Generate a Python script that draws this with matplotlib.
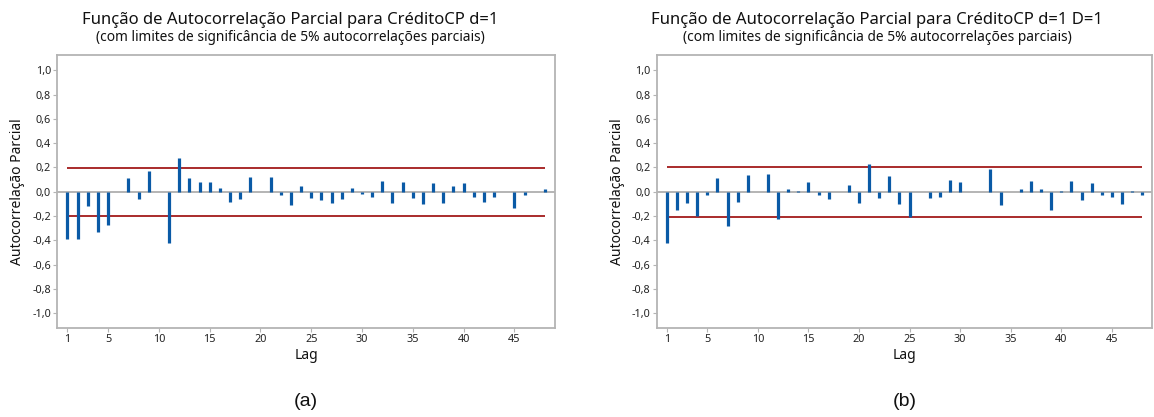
import matplotlib
matplotlib.use("Agg")
import matplotlib.pyplot as plt
import numpy as np

plt.rcParams['font.family'] = ['Noto Sans', 'DejaVu Sans']

# Partial autocorrelations, lags 1..48
lags = list(range(1, 49))
pacf_a = [-0.39, -0.39, -0.12, -0.33, -0.27, 0.00, 0.11, -0.06, 0.17, 0.00,
          -0.42, 0.28, 0.11, 0.08, 0.08, 0.03, -0.08, -0.06, 0.12, 0.00,
          0.12, -0.03, -0.11, 0.05, -0.05, -0.07, -0.09, -0.06, 0.03, -0.02,
          -0.04, 0.09, -0.09, 0.08, -0.05, -0.10, 0.07, -0.09, 0.05, 0.07,
          -0.04, -0.08, -0.04, 0.00, -0.13, -0.03, 0.00, 0.02]
pacf_b = [-0.42, -0.15, -0.09, -0.20, -0.03, 0.11, -0.28, -0.08, 0.14, 0.00,
          0.15, -0.22, 0.02, 0.01, 0.08, -0.03, -0.06, 0.00, 0.06, -0.09,
          0.23, -0.05, 0.13, -0.10, -0.21, 0.00, -0.05, -0.04, 0.10, 0.08,
          0.00, 0.00, 0.19, -0.11, 0.00, 0.02, 0.09, 0.02, -0.15, 0.01,
          0.09, -0.07, 0.07, -0.03, -0.04, -0.10, 0.01, -0.03]

# 5% significance limits
limit_a = 0.196
limit_b = 0.204

titles = ["Função de Autocorrelação Parcial para CréditoCP d=1",
          "Função de Autocorrelação Parcial para CréditoCP d=1 D=1"]
subtitle = "(com limites de significância de 5% autocorrelações parciais)"
panel_labels = ["(a)", "(b)"]
xticks = [1, 5, 10, 15, 20, 25, 30, 35, 40, 45]
yticks = [-1.0, -0.8, -0.6, -0.4, -0.2, 0.0, 0.2, 0.4, 0.6, 0.8, 1.0]
ytick_labels = [f"{v:.1f}".replace(".", ",") for v in yticks]

BAR = "#0a5aa6"
RED = "#a31a1a"
FRAME = "#b4b4b4"
ZERO = "#a8a8a8"
TEXT = "#111111"

W, H = 1154, 417
fig = plt.figure(figsize=(W / 100, H / 100), dpi=100)

def px_axes(x0, x1, y0, y1):
    return fig.add_axes([x0 / W, 1 - y1 / H, (x1 - x0) / W, (y1 - y0) / H])

axes = [px_axes(57.3, 555.0, 55, 328), px_axes(656.7, 1152.3, 55, 328)]
series = [pacf_a, pacf_b]
limits = [limit_a, limit_b]
title_centers = [290, 877]   # centre of each graph region, in pixels

for ax, vals, lim, title, plab, tc in zip(axes, series, limits, titles,
                                          panel_labels, title_centers):
    ax.set_xlim(0, 49)
    ax.set_ylim(-1.12, 1.125)
    ax.axhline(0, color=ZERO, lw=1.2, zorder=1)
    ax.hlines([lim, -lim], 1, 48, color=RED, lw=1.3, zorder=2)
    ax.vlines(lags, 0, vals, color=BAR, lw=2.3, zorder=3)

    ax.set_xticks(xticks)
    ax.set_xticklabels([str(t) for t in xticks], fontsize=7.8, color="#222222")
    ax.set_yticks(yticks)
    ax.set_yticklabels(ytick_labels, fontsize=7.8, color="#222222")
    ax.tick_params(direction="out", length=3, width=0.8, color=FRAME, pad=1.5)
    for s in ax.spines.values():
        s.set_color(FRAME)
        s.set_linewidth(1.3)

    ax.set_ylabel("Autocorrelação Parcial", fontsize=10, color=TEXT, labelpad=5)
    ax.set_xlabel("Lag", fontsize=10, color=TEXT, labelpad=2)

    cx = 0.5 * (ax.get_position().x0 + ax.get_position().x1)
    fig.text(tc / W, 1 - 20 / H, title, ha="center", va="center", fontsize=12,
             color=TEXT)
    fig.text(tc / W, 1 - 37.5 / H, subtitle, ha="center", va="center",
             fontsize=9.9, color=TEXT)
    fig.text(cx, 1 - 402 / H, plab, ha="center", va="center", fontsize=14,
             family="Liberation Sans", color=TEXT)

fig.savefig("out.png", dpi=100, facecolor="white")
